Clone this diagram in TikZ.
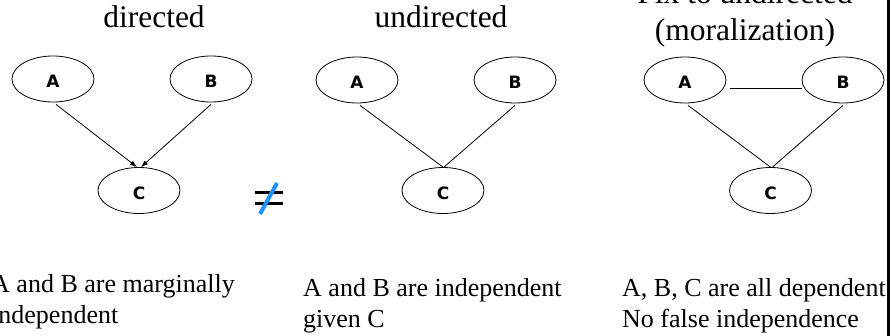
\documentclass[tikz,border=0pt]{standalone}
\usepackage{fontspec}
\setmainfont{Liberation Serif}
\newfontfamily\lblfont{DejaVu Sans}
\usetikzlibrary{arrows.meta,shapes.geometric}

\begin{document}
\begin{tikzpicture}[x=1pt,y=-1pt,
  vnode/.style={ellipse, draw, line width=0.8pt, minimum width=82pt,
    minimum height=46pt, inner sep=0pt,
    font=\lblfont\bfseries\fontsize{17}{17}\selectfont,
    text height=17.5pt, text depth=0pt},
  edge/.style={line width=0.8pt},
  tip/.style={-{Latex[length=7pt,width=5pt]}},
  title/.style={anchor=base, inner sep=0pt, font=\fontsize{31.5}{36}\selectfont},
  caption/.style={anchor=base west, inner sep=0pt, font=\fontsize{26}{30}\selectfont}]

\useasboundingbox (0,0) rectangle (891,336);
\clip (0,0) rectangle (891,336);

% column titles
\node[title] (t1) at (154,28) {directed};
\node[title] (t2) at (441,28) {undirected};
\node[title] (t3a) at (745,4) {Fix to undirected};
\node[title] (t3b) at (745,41) {(moralization)};

% directed graph
\node[vnode] (dA) at (53,79) {A};
\node[vnode] (dB) at (211,79) {B};
\node[vnode] (dC) at (139,190.5) {C};
\draw[edge,tip] ([shift={(3,2)}]dA.south) -- ([shift={(-2,0)}]dC.north);
\draw[edge,tip] ([shift={(0,2)}]dB.south) -- ([shift={(2,0)}]dC.north);

% not-equal mark
\draw[line width=3pt] (255,193) -- (283,193) (255,204) -- (283,204);
\draw[line width=4pt, color={rgb,255:red,30;green,144;blue,255}] (260,214) -- (277,183);

% undirected graph
\node[vnode] (uA) at (357,80) {A};
\node[vnode] (uB) at (515,80) {B};
\node[vnode] (uC) at (443,190.5) {C};
\draw[edge] ([shift={(3,2)}]uA.south) -- (uC.north);
\draw[edge] ([shift={(0,2)}]uB.south) -- ([shift={(1,0)}]uC.north);

% moralized graph
\node[vnode] (mA) at (685,80) {A};
\node[vnode] (mB) at (843,80) {B};
\node[vnode] (mC) at (770.5,190.5) {C};
\draw[edge] ([shift={(4,8)}]mA.east) -- ([shift={(0,8)}]mB.west);
\draw[edge] ([shift={(3,2)}]mA.south) -- (mC.north);
\draw[edge] ([shift={(0,2)}]mB.south) -- ([shift={(2,0)}]mC.north);

% captions
\node[caption] (c1a) at (-9,293) {A and B are marginally};
\node[caption] (c1b) at (-9,324) {independent};
\node[caption] (c2a) at (303,297) {A and B are independent};
\node[caption] (c2b) at (303,328) {given C};
\node[caption] (c3a) at (622,297) {A, B, C are all dependent};
\node[caption] (c3b) at (622,328) {No false independence};

% right border rule
\draw[line width=3pt] (888.5,0) -- (888.5,336);
\end{tikzpicture}
\end{document}
